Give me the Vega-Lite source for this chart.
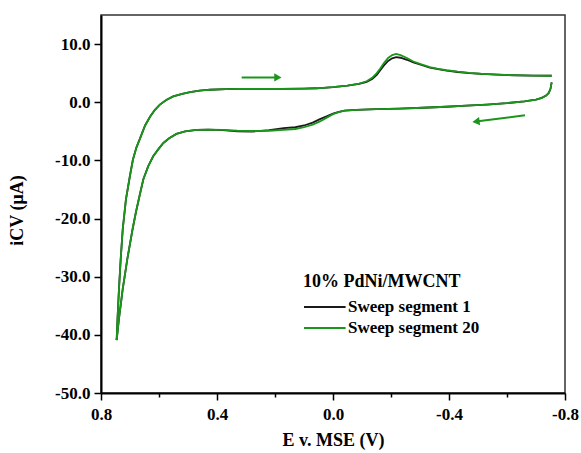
{
  "$schema": "https://vega.github.io/schema/vega-lite/v6.json",
  "width": 464,
  "height": 378,
  "autosize": {"type": "none"},
  "padding": {"left": 101, "top": 15, "right": 16, "bottom": 60},
  "background": "white",
  "config": {
    "view": {"stroke": "#333333", "strokeWidth": 1.5},
    "font": "Liberation Serif"
  },
  "datasets": {
    "cv": [
      {"s": "Sweep segment 1", "b": "up", "k": 1, "E": 0.746, "i": -40.9},
      {"s": "Sweep segment 1", "b": "up", "k": 2, "E": 0.743, "i": -37.2},
      {"s": "Sweep segment 1", "b": "up", "k": 3, "E": 0.738, "i": -32.1},
      {"s": "Sweep segment 1", "b": "up", "k": 4, "E": 0.732, "i": -26.9},
      {"s": "Sweep segment 1", "b": "up", "k": 5, "E": 0.725, "i": -21.8},
      {"s": "Sweep segment 1", "b": "up", "k": 6, "E": 0.714, "i": -16.7},
      {"s": "Sweep segment 1", "b": "up", "k": 7, "E": 0.700, "i": -12.6},
      {"s": "Sweep segment 1", "b": "up", "k": 8, "E": 0.690, "i": -9.9},
      {"s": "Sweep segment 1", "b": "up", "k": 9, "E": 0.678, "i": -7.8},
      {"s": "Sweep segment 1", "b": "up", "k": 10, "E": 0.666, "i": -6.3},
      {"s": "Sweep segment 1", "b": "up", "k": 11, "E": 0.648, "i": -4.0},
      {"s": "Sweep segment 1", "b": "up", "k": 12, "E": 0.631, "i": -2.5},
      {"s": "Sweep segment 1", "b": "up", "k": 13, "E": 0.614, "i": -1.3},
      {"s": "Sweep segment 1", "b": "up", "k": 14, "E": 0.597, "i": -0.4},
      {"s": "Sweep segment 1", "b": "up", "k": 15, "E": 0.575, "i": 0.4},
      {"s": "Sweep segment 1", "b": "up", "k": 16, "E": 0.551, "i": 1.0},
      {"s": "Sweep segment 1", "b": "up", "k": 17, "E": 0.520, "i": 1.45},
      {"s": "Sweep segment 1", "b": "up", "k": 18, "E": 0.493, "i": 1.75},
      {"s": "Sweep segment 1", "b": "up", "k": 19, "E": 0.460, "i": 2.0},
      {"s": "Sweep segment 1", "b": "up", "k": 20, "E": 0.424, "i": 2.15},
      {"s": "Sweep segment 1", "b": "up", "k": 21, "E": 0.370, "i": 2.25},
      {"s": "Sweep segment 1", "b": "up", "k": 22, "E": 0.321, "i": 2.3},
      {"s": "Sweep segment 1", "b": "up", "k": 23, "E": 0.25, "i": 2.3},
      {"s": "Sweep segment 1", "b": "up", "k": 24, "E": 0.18, "i": 2.3},
      {"s": "Sweep segment 1", "b": "up", "k": 25, "E": 0.10, "i": 2.35},
      {"s": "Sweep segment 1", "b": "up", "k": 26, "E": 0.056, "i": 2.4},
      {"s": "Sweep segment 1", "b": "up", "k": 27, "E": 0.0, "i": 2.6},
      {"s": "Sweep segment 1", "b": "up", "k": 28, "E": -0.05, "i": 2.85},
      {"s": "Sweep segment 1", "b": "up", "k": 29, "E": -0.09, "i": 3.15},
      {"s": "Sweep segment 1", "b": "up", "k": 30, "E": -0.116, "i": 3.5},
      {"s": "Sweep segment 1", "b": "up", "k": 31, "E": -0.135, "i": 4.0},
      {"s": "Sweep segment 1", "b": "up", "k": 32, "E": -0.151, "i": 4.7},
      {"s": "Sweep segment 1", "b": "up", "k": 33, "E": -0.163, "i": 5.5},
      {"s": "Sweep segment 1", "b": "up", "k": 34, "E": -0.175, "i": 6.3},
      {"s": "Sweep segment 1", "b": "up", "k": 35, "E": -0.190, "i": 7.1},
      {"s": "Sweep segment 1", "b": "up", "k": 36, "E": -0.204, "i": 7.55},
      {"s": "Sweep segment 1", "b": "up", "k": 37, "E": -0.218, "i": 7.75},
      {"s": "Sweep segment 1", "b": "up", "k": 38, "E": -0.233, "i": 7.65},
      {"s": "Sweep segment 1", "b": "up", "k": 39, "E": -0.255, "i": 7.3},
      {"s": "Sweep segment 1", "b": "up", "k": 40, "E": -0.277, "i": 6.85},
      {"s": "Sweep segment 1", "b": "up", "k": 41, "E": -0.305, "i": 6.4},
      {"s": "Sweep segment 1", "b": "up", "k": 42, "E": -0.334, "i": 5.95},
      {"s": "Sweep segment 1", "b": "up", "k": 43, "E": -0.362, "i": 5.7},
      {"s": "Sweep segment 1", "b": "up", "k": 44, "E": -0.392, "i": 5.45},
      {"s": "Sweep segment 1", "b": "up", "k": 45, "E": -0.43, "i": 5.2},
      {"s": "Sweep segment 1", "b": "up", "k": 46, "E": -0.47, "i": 5.0},
      {"s": "Sweep segment 1", "b": "up", "k": 47, "E": -0.51, "i": 4.88},
      {"s": "Sweep segment 1", "b": "up", "k": 48, "E": -0.56, "i": 4.76},
      {"s": "Sweep segment 1", "b": "up", "k": 49, "E": -0.62, "i": 4.64},
      {"s": "Sweep segment 1", "b": "up", "k": 50, "E": -0.69, "i": 4.56},
      {"s": "Sweep segment 1", "b": "up", "k": 51, "E": -0.754, "i": 4.55},
      {"s": "Sweep segment 1", "b": "down", "k": 52, "E": -0.754, "i": 3.4},
      {"s": "Sweep segment 1", "b": "down", "k": 53, "E": -0.750, "i": 2.3},
      {"s": "Sweep segment 1", "b": "down", "k": 54, "E": -0.744, "i": 1.6},
      {"s": "Sweep segment 1", "b": "down", "k": 55, "E": -0.735, "i": 1.15},
      {"s": "Sweep segment 1", "b": "down", "k": 56, "E": -0.72, "i": 0.75},
      {"s": "Sweep segment 1", "b": "down", "k": 57, "E": -0.70, "i": 0.45},
      {"s": "Sweep segment 1", "b": "down", "k": 58, "E": -0.66, "i": 0.15},
      {"s": "Sweep segment 1", "b": "down", "k": 59, "E": -0.60, "i": -0.15},
      {"s": "Sweep segment 1", "b": "down", "k": 60, "E": -0.53, "i": -0.4},
      {"s": "Sweep segment 1", "b": "down", "k": 61, "E": -0.46, "i": -0.6},
      {"s": "Sweep segment 1", "b": "down", "k": 62, "E": -0.39, "i": -0.78},
      {"s": "Sweep segment 1", "b": "down", "k": 63, "E": -0.31, "i": -0.95},
      {"s": "Sweep segment 1", "b": "down", "k": 64, "E": -0.23, "i": -1.1},
      {"s": "Sweep segment 1", "b": "down", "k": 65, "E": -0.15, "i": -1.2},
      {"s": "Sweep segment 1", "b": "down", "k": 66, "E": -0.08, "i": -1.3},
      {"s": "Sweep segment 1", "b": "down", "k": 67, "E": -0.04, "i": -1.45},
      {"s": "Sweep segment 1", "b": "down", "k": 68, "E": -0.02, "i": -1.65},
      {"s": "Sweep segment 1", "b": "down", "k": 69, "E": 0.0, "i": -1.95},
      {"s": "Sweep segment 1", "b": "down", "k": 70, "E": 0.02, "i": -2.4},
      {"s": "Sweep segment 1", "b": "down", "k": 71, "E": 0.045, "i": -2.9},
      {"s": "Sweep segment 1", "b": "down", "k": 72, "E": 0.07, "i": -3.5},
      {"s": "Sweep segment 1", "b": "down", "k": 73, "E": 0.10, "i": -4.0},
      {"s": "Sweep segment 1", "b": "down", "k": 74, "E": 0.13, "i": -4.3},
      {"s": "Sweep segment 1", "b": "down", "k": 75, "E": 0.17, "i": -4.45},
      {"s": "Sweep segment 1", "b": "down", "k": 76, "E": 0.22, "i": -4.8},
      {"s": "Sweep segment 1", "b": "down", "k": 77, "E": 0.28, "i": -5.05},
      {"s": "Sweep segment 1", "b": "down", "k": 78, "E": 0.33, "i": -5.0},
      {"s": "Sweep segment 1", "b": "down", "k": 79, "E": 0.38, "i": -4.8},
      {"s": "Sweep segment 1", "b": "down", "k": 80, "E": 0.43, "i": -4.7},
      {"s": "Sweep segment 1", "b": "down", "k": 81, "E": 0.47, "i": -4.75},
      {"s": "Sweep segment 1", "b": "down", "k": 82, "E": 0.51, "i": -5.0},
      {"s": "Sweep segment 1", "b": "down", "k": 83, "E": 0.54, "i": -5.45},
      {"s": "Sweep segment 1", "b": "down", "k": 84, "E": 0.565, "i": -6.2},
      {"s": "Sweep segment 1", "b": "down", "k": 85, "E": 0.585, "i": -7.0},
      {"s": "Sweep segment 1", "b": "down", "k": 86, "E": 0.604, "i": -8.2},
      {"s": "Sweep segment 1", "b": "down", "k": 87, "E": 0.620, "i": -9.3},
      {"s": "Sweep segment 1", "b": "down", "k": 88, "E": 0.637, "i": -11.0},
      {"s": "Sweep segment 1", "b": "down", "k": 89, "E": 0.654, "i": -13.25},
      {"s": "Sweep segment 1", "b": "down", "k": 90, "E": 0.668, "i": -16.3},
      {"s": "Sweep segment 1", "b": "down", "k": 91, "E": 0.680, "i": -19.0},
      {"s": "Sweep segment 1", "b": "down", "k": 92, "E": 0.691, "i": -21.8},
      {"s": "Sweep segment 1", "b": "down", "k": 93, "E": 0.709, "i": -26.9},
      {"s": "Sweep segment 1", "b": "down", "k": 94, "E": 0.725, "i": -32.1},
      {"s": "Sweep segment 1", "b": "down", "k": 95, "E": 0.738, "i": -37.2},
      {"s": "Sweep segment 1", "b": "down", "k": 96, "E": 0.746, "i": -40.9},

      {"s": "Sweep segment 20", "b": "up", "k": 1, "E": 0.746, "i": -40.9},
      {"s": "Sweep segment 20", "b": "up", "k": 2, "E": 0.743, "i": -37.2},
      {"s": "Sweep segment 20", "b": "up", "k": 3, "E": 0.738, "i": -32.1},
      {"s": "Sweep segment 20", "b": "up", "k": 4, "E": 0.732, "i": -26.9},
      {"s": "Sweep segment 20", "b": "up", "k": 5, "E": 0.725, "i": -21.8},
      {"s": "Sweep segment 20", "b": "up", "k": 6, "E": 0.714, "i": -16.7},
      {"s": "Sweep segment 20", "b": "up", "k": 7, "E": 0.700, "i": -12.6},
      {"s": "Sweep segment 20", "b": "up", "k": 8, "E": 0.690, "i": -9.9},
      {"s": "Sweep segment 20", "b": "up", "k": 9, "E": 0.678, "i": -7.8},
      {"s": "Sweep segment 20", "b": "up", "k": 10, "E": 0.666, "i": -6.3},
      {"s": "Sweep segment 20", "b": "up", "k": 11, "E": 0.648, "i": -4.0},
      {"s": "Sweep segment 20", "b": "up", "k": 12, "E": 0.631, "i": -2.5},
      {"s": "Sweep segment 20", "b": "up", "k": 13, "E": 0.614, "i": -1.3},
      {"s": "Sweep segment 20", "b": "up", "k": 14, "E": 0.597, "i": -0.4},
      {"s": "Sweep segment 20", "b": "up", "k": 15, "E": 0.575, "i": 0.4},
      {"s": "Sweep segment 20", "b": "up", "k": 16, "E": 0.551, "i": 1.0},
      {"s": "Sweep segment 20", "b": "up", "k": 17, "E": 0.520, "i": 1.45},
      {"s": "Sweep segment 20", "b": "up", "k": 18, "E": 0.493, "i": 1.75},
      {"s": "Sweep segment 20", "b": "up", "k": 19, "E": 0.460, "i": 2.0},
      {"s": "Sweep segment 20", "b": "up", "k": 20, "E": 0.424, "i": 2.15},
      {"s": "Sweep segment 20", "b": "up", "k": 21, "E": 0.370, "i": 2.25},
      {"s": "Sweep segment 20", "b": "up", "k": 22, "E": 0.321, "i": 2.3},
      {"s": "Sweep segment 20", "b": "up", "k": 23, "E": 0.25, "i": 2.3},
      {"s": "Sweep segment 20", "b": "up", "k": 24, "E": 0.18, "i": 2.3},
      {"s": "Sweep segment 20", "b": "up", "k": 25, "E": 0.10, "i": 2.35},
      {"s": "Sweep segment 20", "b": "up", "k": 26, "E": 0.056, "i": 2.4},
      {"s": "Sweep segment 20", "b": "up", "k": 27, "E": 0.0, "i": 2.6},
      {"s": "Sweep segment 20", "b": "up", "k": 28, "E": -0.05, "i": 2.85},
      {"s": "Sweep segment 20", "b": "up", "k": 29, "E": -0.09, "i": 3.2},
      {"s": "Sweep segment 20", "b": "up", "k": 30, "E": -0.116, "i": 3.6},
      {"s": "Sweep segment 20", "b": "up", "k": 31, "E": -0.135, "i": 4.2},
      {"s": "Sweep segment 20", "b": "up", "k": 32, "E": -0.151, "i": 5.0},
      {"s": "Sweep segment 20", "b": "up", "k": 33, "E": -0.163, "i": 5.8},
      {"s": "Sweep segment 20", "b": "up", "k": 34, "E": -0.175, "i": 6.7},
      {"s": "Sweep segment 20", "b": "up", "k": 35, "E": -0.190, "i": 7.6},
      {"s": "Sweep segment 20", "b": "up", "k": 36, "E": -0.204, "i": 8.1},
      {"s": "Sweep segment 20", "b": "up", "k": 37, "E": -0.218, "i": 8.3},
      {"s": "Sweep segment 20", "b": "up", "k": 38, "E": -0.233, "i": 8.1},
      {"s": "Sweep segment 20", "b": "up", "k": 39, "E": -0.255, "i": 7.6},
      {"s": "Sweep segment 20", "b": "up", "k": 40, "E": -0.277, "i": 7.0},
      {"s": "Sweep segment 20", "b": "up", "k": 41, "E": -0.305, "i": 6.5},
      {"s": "Sweep segment 20", "b": "up", "k": 42, "E": -0.334, "i": 6.05},
      {"s": "Sweep segment 20", "b": "up", "k": 43, "E": -0.362, "i": 5.75},
      {"s": "Sweep segment 20", "b": "up", "k": 44, "E": -0.392, "i": 5.5},
      {"s": "Sweep segment 20", "b": "up", "k": 45, "E": -0.43, "i": 5.25},
      {"s": "Sweep segment 20", "b": "up", "k": 46, "E": -0.47, "i": 5.05},
      {"s": "Sweep segment 20", "b": "up", "k": 47, "E": -0.51, "i": 4.9},
      {"s": "Sweep segment 20", "b": "up", "k": 48, "E": -0.56, "i": 4.78},
      {"s": "Sweep segment 20", "b": "up", "k": 49, "E": -0.62, "i": 4.65},
      {"s": "Sweep segment 20", "b": "up", "k": 50, "E": -0.69, "i": 4.57},
      {"s": "Sweep segment 20", "b": "up", "k": 51, "E": -0.754, "i": 4.55},
      {"s": "Sweep segment 20", "b": "down", "k": 52, "E": -0.754, "i": 3.4},
      {"s": "Sweep segment 20", "b": "down", "k": 53, "E": -0.750, "i": 2.3},
      {"s": "Sweep segment 20", "b": "down", "k": 54, "E": -0.744, "i": 1.6},
      {"s": "Sweep segment 20", "b": "down", "k": 55, "E": -0.735, "i": 1.15},
      {"s": "Sweep segment 20", "b": "down", "k": 56, "E": -0.72, "i": 0.75},
      {"s": "Sweep segment 20", "b": "down", "k": 57, "E": -0.70, "i": 0.45},
      {"s": "Sweep segment 20", "b": "down", "k": 58, "E": -0.66, "i": 0.15},
      {"s": "Sweep segment 20", "b": "down", "k": 59, "E": -0.60, "i": -0.15},
      {"s": "Sweep segment 20", "b": "down", "k": 60, "E": -0.53, "i": -0.4},
      {"s": "Sweep segment 20", "b": "down", "k": 61, "E": -0.46, "i": -0.6},
      {"s": "Sweep segment 20", "b": "down", "k": 62, "E": -0.39, "i": -0.78},
      {"s": "Sweep segment 20", "b": "down", "k": 63, "E": -0.31, "i": -0.95},
      {"s": "Sweep segment 20", "b": "down", "k": 64, "E": -0.23, "i": -1.1},
      {"s": "Sweep segment 20", "b": "down", "k": 65, "E": -0.15, "i": -1.2},
      {"s": "Sweep segment 20", "b": "down", "k": 66, "E": -0.08, "i": -1.3},
      {"s": "Sweep segment 20", "b": "down", "k": 67, "E": -0.04, "i": -1.45},
      {"s": "Sweep segment 20", "b": "down", "k": 68, "E": -0.02, "i": -1.7},
      {"s": "Sweep segment 20", "b": "down", "k": 69, "E": 0.0, "i": -2.05},
      {"s": "Sweep segment 20", "b": "down", "k": 70, "E": 0.02, "i": -2.6},
      {"s": "Sweep segment 20", "b": "down", "k": 71, "E": 0.045, "i": -3.3},
      {"s": "Sweep segment 20", "b": "down", "k": 72, "E": 0.07, "i": -3.85},
      {"s": "Sweep segment 20", "b": "down", "k": 73, "E": 0.10, "i": -4.3},
      {"s": "Sweep segment 20", "b": "down", "k": 74, "E": 0.13, "i": -4.6},
      {"s": "Sweep segment 20", "b": "down", "k": 75, "E": 0.17, "i": -4.75},
      {"s": "Sweep segment 20", "b": "down", "k": 76, "E": 0.22, "i": -4.9},
      {"s": "Sweep segment 20", "b": "down", "k": 77, "E": 0.28, "i": -4.95},
      {"s": "Sweep segment 20", "b": "down", "k": 78, "E": 0.33, "i": -4.9},
      {"s": "Sweep segment 20", "b": "down", "k": 79, "E": 0.38, "i": -4.75},
      {"s": "Sweep segment 20", "b": "down", "k": 80, "E": 0.43, "i": -4.7},
      {"s": "Sweep segment 20", "b": "down", "k": 81, "E": 0.47, "i": -4.75},
      {"s": "Sweep segment 20", "b": "down", "k": 82, "E": 0.51, "i": -5.0},
      {"s": "Sweep segment 20", "b": "down", "k": 83, "E": 0.54, "i": -5.45},
      {"s": "Sweep segment 20", "b": "down", "k": 84, "E": 0.565, "i": -6.2},
      {"s": "Sweep segment 20", "b": "down", "k": 85, "E": 0.585, "i": -7.0},
      {"s": "Sweep segment 20", "b": "down", "k": 86, "E": 0.604, "i": -8.2},
      {"s": "Sweep segment 20", "b": "down", "k": 87, "E": 0.620, "i": -9.3},
      {"s": "Sweep segment 20", "b": "down", "k": 88, "E": 0.637, "i": -11.0},
      {"s": "Sweep segment 20", "b": "down", "k": 89, "E": 0.654, "i": -13.25},
      {"s": "Sweep segment 20", "b": "down", "k": 90, "E": 0.668, "i": -16.3},
      {"s": "Sweep segment 20", "b": "down", "k": 91, "E": 0.680, "i": -19.0},
      {"s": "Sweep segment 20", "b": "down", "k": 92, "E": 0.691, "i": -21.8},
      {"s": "Sweep segment 20", "b": "down", "k": 93, "E": 0.709, "i": -26.9},
      {"s": "Sweep segment 20", "b": "down", "k": 94, "E": 0.725, "i": -32.1},
      {"s": "Sweep segment 20", "b": "down", "k": 95, "E": 0.738, "i": -37.2},
      {"s": "Sweep segment 20", "b": "down", "k": 96, "E": 0.746, "i": -40.9}
    ],
    "arrowLines": [
      {"a": "upper", "k": 1, "E": 0.315, "i": 4.27},
      {"a": "upper", "k": 2, "E": 0.19, "i": 4.27},
      {"a": "lower", "k": 1, "E": -0.662, "i": -2.24},
      {"a": "lower", "k": 2, "E": -0.493, "i": -3.32}
    ],
    "arrowHeads": [
      {"a": "upper", "E": 0.19, "i": 4.27},
      {"a": "lower", "E": -0.493, "i": -3.32}
    ]
  },
  "layer": [
    {
      "data": {"name": "cv"},
      "mark": {"type": "line", "strokeWidth": 1.8, "interpolate": "linear"},
      "encoding": {
        "x": {
          "field": "E", "type": "quantitative",
          "scale": {"domain": [-0.8, 0.8], "reverse": true, "nice": false, "zero": false},
          "axis": {
            "title": "E v. MSE (V)",
            "titleFont": "Liberation Serif", "titleFontSize": 18, "titleFontWeight": "bold", "titleColor": "black",
            "titleBaseline": "middle", "titleY": 47,
            "values": [-0.8, -0.6, -0.4, -0.2, 0, 0.2, 0.4, 0.6, 0.8],
            "labelExpr": "round(datum.value*10) % 4 === 0 ? (datum.value < -0.001 ? '-' : '') + format(abs(datum.value), '.1f') : ''",
            "labelFont": "Liberation Serif", "labelFontSize": 17, "labelFontWeight": "bold", "labelColor": "black",
            "labelPadding": 6, "labelFlush": false, "labelOverlap": false,
            "tickSize": {"condition": {"test": "round(datum.value*10) % 4 === 0", "value": 7}, "value": 4},
            "tickColor": "black", "tickWidth": 1.5,
            "domainColor": "black", "domainWidth": 2, "grid": false
          }
        },
        "y": {
          "field": "i", "type": "quantitative",
          "scale": {"domain": [-50, 15], "nice": false, "zero": false},
          "axis": {
            "title": "iCV (μA)",
            "titleFont": "Liberation Serif", "titleFontSize": 18, "titleFontWeight": "bold", "titleColor": "black",
            "titleAngle": -90, "titleAlign": "center", "titleBaseline": "middle", "titleX": -84, "titleY": 195,
            "values": [-50, -45, -40, -35, -30, -25, -20, -15, -10, -5, 0, 5, 10],
            "labelExpr": "datum.value % 10 === 0 ? (datum.value < 0 ? '-' : '') + format(abs(datum.value), '.1f') : ''",
            "labelFont": "Liberation Serif", "labelFontSize": 17, "labelFontWeight": "bold", "labelColor": "black",
            "labelPadding": 4, "labelFlush": false, "labelOverlap": false,
            "tickSize": {"condition": {"test": "datum.value % 10 === 0", "value": 7}, "value": 4},
            "tickColor": "black", "tickWidth": 1.5,
            "domainColor": "black", "domainWidth": 2, "grid": false
          }
        },
        "order": {"field": "k", "type": "quantitative"},
        "detail": {"field": "b", "type": "nominal"},
        "color": {
          "field": "s", "type": "nominal",
          "scale": {"domain": ["Sweep segment 1", "Sweep segment 20"], "range": ["#1a1a1a", "#1a961a"]},
          "legend": {
            "orient": "none", "legendX": 202, "legendY": 258,
            "title": "10% PdNi/MWCNT",
            "titleFont": "Liberation Serif", "titleFontSize": 18, "titleFontWeight": "bold", "titleColor": "black",
            "titlePadding": 7,
            "labelFont": "Liberation Serif", "labelFontSize": 17, "labelFontWeight": "bold", "labelColor": "black",
            "symbolType": "M-1,0H4.2", "symbolSize": 256, "symbolStrokeWidth": 2,
            "labelOffset": 27, "rowPadding": 4, "padding": 0
          }
        }
      }
    },
    {
      "data": {"name": "arrowLines"},
      "mark": {"type": "line", "color": "#1a961a", "strokeWidth": 2},
      "encoding": {
        "x": {"field": "E", "type": "quantitative"},
        "y": {"field": "i", "type": "quantitative"},
        "detail": {"field": "a", "type": "nominal"},
        "order": {"field": "k", "type": "quantitative"}
      }
    },
    {
      "data": {"name": "arrowHeads"},
      "transform": [{"filter": "datum.a === 'upper'"}],
      "mark": {"type": "point", "shape": "triangle-right", "filled": true, "color": "#1a961a", "size": 70, "opacity": 1},
      "encoding": {
        "x": {"field": "E", "type": "quantitative"},
        "y": {"field": "i", "type": "quantitative"}
      }
    },
    {
      "data": {"name": "arrowHeads"},
      "transform": [{"filter": "datum.a === 'lower'"}],
      "mark": {"type": "point", "shape": "triangle-left", "filled": true, "color": "#1a961a", "size": 70, "opacity": 1, "angle": -7},
      "encoding": {
        "x": {"field": "E", "type": "quantitative"},
        "y": {"field": "i", "type": "quantitative"}
      }
    }
  ]
}
